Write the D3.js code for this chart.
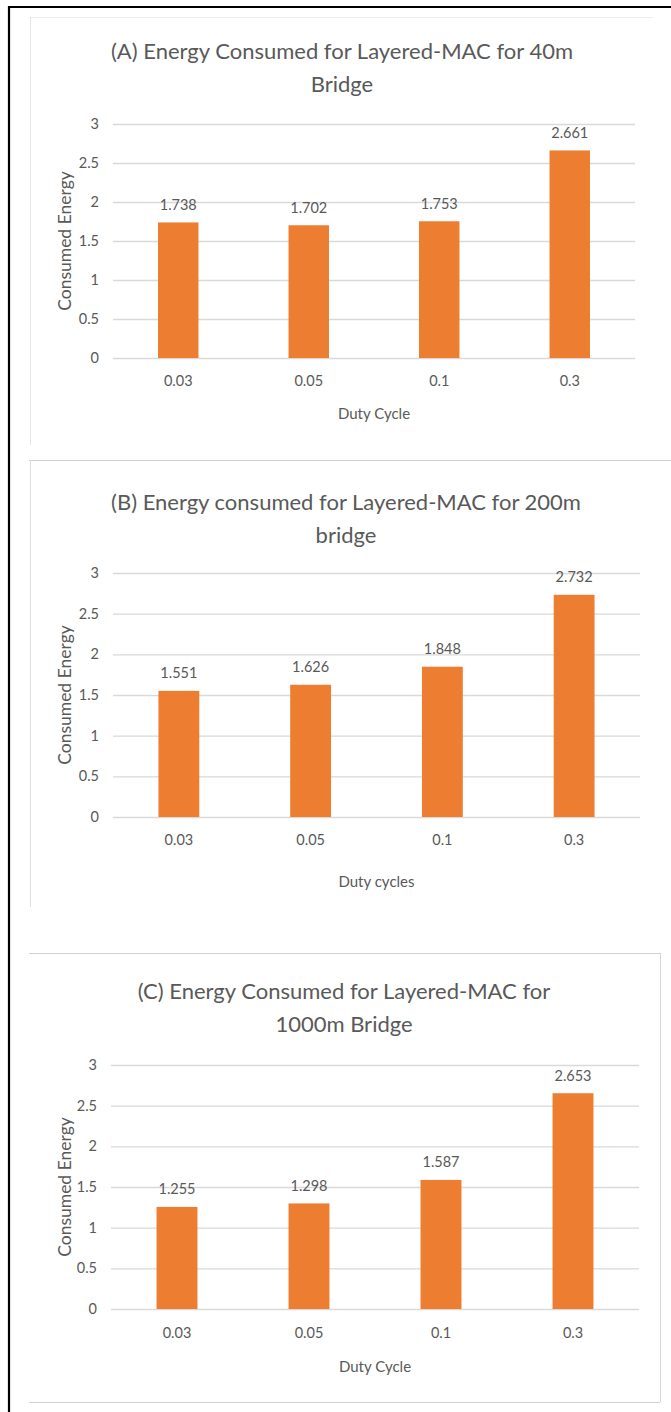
<!DOCTYPE html>
<html>
<head>
<meta charset="utf-8">
<script src="https://cdn.jsdelivr.net/npm/d3@7"></script>
<style>
  html, body { margin: 0; padding: 0; background: #ffffff; }
  svg { display: block; }
  text { font-family: Lato, "Open Sans", sans-serif; fill: #595959; }
</style>
</head>
<body>
<svg id="chart" width="671" height="1412"></svg>
<script>
// Duty-cycle categories shared by all three charts
const categories = ["0.03", "0.05", "0.1", "0.3"];

// Consumed energy per duty cycle, one series per bridge length
const energy40m = [1.738, 1.702, 1.753, 2.661];
const energy200m = [1.551, 1.626, 1.848, 2.732];
const energy1000m = [1.255, 1.298, 1.587, 2.653];

// Value-axis ticks
const yTicks = [0, 0.5, 1, 1.5, 2, 2.5, 3];
const yTickLabels = ["0", "0.5", "1", "1.5", "2", "2.5", "3"];

// Chart titles (two lines each) and axis titles
const titlesA = ["(A) Energy Consumed for Layered-MAC for 40m", "Bridge"];
const titlesB = ["(B) Energy consumed for Layered-MAC for 200m", "bridge"];
const titlesC = ["(C) Energy Consumed for Layered-MAC for", "1000m Bridge"];
const xTitles = ["Duty Cycle", "Duty cycles", "Duty Cycle"];
const yTitle = "Consumed Energy";

const svg = d3.select("#chart");
const BAR = "#ED7D31";
const GRID = "#d9d9d9";

// Page frame: thick black rule along the top and left
svg.append("line").attr("x1", 8).attr("x2", 671).attr("y1", 7).attr("y2", 7)
  .attr("stroke", "#000").attr("stroke-width", 2.2);
svg.append("line").attr("x1", 9).attr("x2", 9).attr("y1", 6).attr("y2", 1412)
  .attr("stroke", "#000").attr("stroke-width", 2.2);

// Chart frames
function edge(x1, y1, x2, y2, color) {
  svg.append("line").attr("x1", x1).attr("y1", y1).attr("x2", x2).attr("y2", y2)
    .attr("stroke", color).attr("stroke-width", 1);
}
edge(30, 17.5, 653, 17.5, "#eeeeee");
edge(30.5, 17, 30.5, 445, "#e6e6e6");
edge(29, 460.5, 671, 460.5, "#d0d0d0");
edge(30.5, 460, 30.5, 907, "#dedede");
edge(29, 953.5, 660, 953.5, "#d0d0d0");
edge(660.5, 953, 660.5, 1402, "#d6d6d6");
edge(29, 1402.5, 660, 1402.5, "#d0d0d0");

const panels = [
  { titles: titlesA, values: energy40m, xTitle: xTitles[0],
    x0: 113, x1: 635, yTop: 124, yBase: 358, titleY: [50, 83], tickY: 381, xTitleY: 413, titleX: 342 },
  { titles: titlesB, values: energy200m, xTitle: xTitles[1],
    x0: 113, x1: 640, yTop: 573, yBase: 817, titleY: [501, 534], tickY: 840, xTitleY: 881, titleX: 346 },
  { titles: titlesC, values: energy1000m, xTitle: xTitles[2],
    x0: 111, x1: 639, yTop: 1065, yBase: 1309, titleY: [990, 1023], tickY: 1333, xTitleY: 1366, titleX: 344 }
];

panels.forEach(p => {
  const g = svg.append("g");
  const x = d3.scaleBand().domain(categories).range([p.x0, p.x1])
    .paddingInner(0.69).paddingOuter(0.345);
  const y = d3.scaleLinear().domain([0, 3]).range([p.yBase, p.yTop]);

  // Title
  p.titles.forEach((t, i) => {
    g.append("text").attr("x", p.titleX).attr("y", p.titleY[i])
      .attr("text-anchor", "middle").attr("dominant-baseline", "central")
      .style("font-size", "22px").text(t);
  });

  // Gridlines with tick labels
  const yAxis = d3.axisLeft(y).tickValues(yTicks)
    .tickFormat((d, i) => yTickLabels[i])
    .tickSize(-(p.x1 - p.x0)).tickPadding(14);
  const ya = g.append("g").attr("transform", `translate(${p.x0},0)`).call(yAxis);
  ya.select(".domain").remove();
  ya.selectAll(".tick line").attr("stroke", GRID).attr("stroke-width", 1.3);
  ya.selectAll(".tick text").style("font-size", "14.5px").attr("fill", "#595959")
    .style("font-family", "Lato, sans-serif");

  // Category axis labels
  const xAxis = d3.axisBottom(x).tickSize(0).tickPadding(0);
  const xa = g.append("g").attr("transform", `translate(0,${p.tickY})`).call(xAxis);
  xa.select(".domain").remove();
  xa.selectAll(".tick text").attr("dy", "0.35em").attr("y", 0)
    .style("font-size", "14.5px").attr("fill", "#595959")
    .style("font-family", "Lato, sans-serif");

  // Bars
  const data = categories.map((c, i) => ({ c, v: p.values[i] }));
  g.selectAll("rect.bar").data(data).join("rect").attr("class", "bar")
    .attr("x", d => x(d.c)).attr("width", x.bandwidth())
    .attr("y", d => y(d.v)).attr("height", d => y(0) - y(d.v))
    .attr("fill", BAR);

  // Value labels
  g.selectAll("text.val").data(data).join("text").attr("class", "val")
    .attr("x", d => x(d.c) + x.bandwidth() / 2).attr("y", d => y(d.v) - 18)
    .attr("text-anchor", "middle").attr("dominant-baseline", "central")
    .style("font-size", "14.5px").text(d => d.v.toFixed(3));

  // Axis titles
  g.append("text").attr("x", (p.x0 + p.x1) / 2).attr("y", p.xTitleY)
    .attr("text-anchor", "middle").attr("dominant-baseline", "central")
    .style("font-size", "15px").text(p.xTitle);
  g.append("text")
    .attr("transform", `translate(64,${(p.yTop + p.yBase) / 2}) rotate(-90)`)
    .attr("text-anchor", "middle").attr("dominant-baseline", "central")
    .style("font-size", "17.5px").text(yTitle);
});
</script>
</body>
</html>
